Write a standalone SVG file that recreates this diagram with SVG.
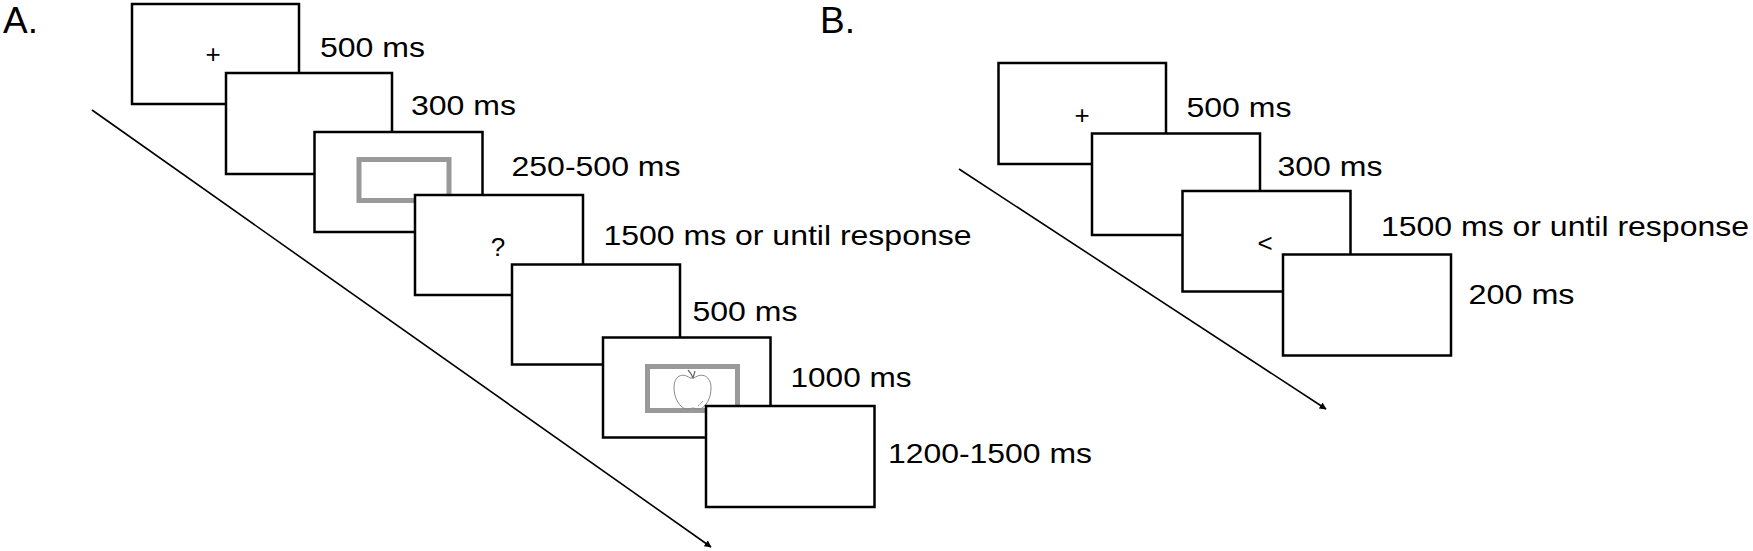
<svg xmlns="http://www.w3.org/2000/svg" width="1753" height="551" viewBox="0 0 1753 551">
<style>
.scr{fill:#fff;stroke:#000;stroke-width:2.5}
.cue{fill:none;stroke:#999;stroke-width:5}
.lbl{font-family:"Liberation Sans",Arial,sans-serif;font-size:28px;fill:#000}
.sym{font-family:"Liberation Sans",Arial,sans-serif;font-size:26px;fill:#000;text-anchor:middle}
.head{font-family:"Liberation Sans",Arial,sans-serif;font-size:37px;fill:#000}
.ax{stroke:#000;stroke-width:1.6;fill:none}
</style>
<defs>
<marker id="arr" viewBox="0 0 10 10" refX="9" refY="5" markerWidth="7" markerHeight="7" markerUnits="userSpaceOnUse" orient="auto"><path d="M0,0 L10,5 L0,10 z" fill="#000"/></marker>
</defs>
<rect width="1753" height="551" fill="#fff"/>
<text class="head" x="3" y="33">A.</text>
<text class="head" x="820" y="33">B.</text>
<g id="connectors">
<line class="ax" x1="92" y1="110" x2="711" y2="547" marker-end="url(#arr)"/>
<line class="ax" x1="959" y1="169" x2="1326" y2="409" marker-end="url(#arr)"/>
</g>
<g id="a1"><rect class="scr" x="132" y="4" width="167" height="100"/><text class="sym" x="213" y="63">+</text><text class="lbl" x="320" y="57" textLength="105" lengthAdjust="spacingAndGlyphs">500 ms</text></g>
<g id="a2"><rect class="scr" x="226" y="73" width="166" height="101"/><text class="lbl" x="411" y="115" textLength="105" lengthAdjust="spacingAndGlyphs">300 ms</text></g>
<g id="a3"><rect class="scr" x="314.5" y="132" width="168" height="100"/><rect class="cue" x="359" y="159.5" width="90" height="41"/><text class="lbl" x="511.5" y="176" textLength="169" lengthAdjust="spacingAndGlyphs">250-500 ms</text></g>
<g id="a4"><rect class="scr" x="415" y="195" width="168" height="100"/><text class="sym" x="498" y="256">?</text><text class="lbl" x="603.5" y="245" textLength="368" lengthAdjust="spacingAndGlyphs">1500 ms or until response</text></g>
<g id="a5"><rect class="scr" x="512" y="264.5" width="168" height="100"/><text class="lbl" x="692.5" y="321" textLength="105" lengthAdjust="spacingAndGlyphs">500 ms</text></g>
<g id="a6"><rect class="scr" x="603" y="337.5" width="167.5" height="100"/><rect class="cue" x="647.5" y="366.5" width="90" height="44"/>
<path d="M690,378 C682,372 674,376 674,388 C674,398 680,408 686,409 C689,410 691,408 693,408 C695,408 697,410 700,409 C706,407 711,398 711,388 C711,376 702,372 694,378 Z" fill="none" stroke="#888" stroke-width="1"/>
<path d="M693,378 L695,371 M688,370 C690,372 692,375 693,378" fill="none" stroke="#666" stroke-width="1.2"/>
<path d="M698,406 C700,404 702,402 703,401" fill="none" stroke="#999" stroke-width="1"/>
<text class="lbl" x="790.5" y="387" textLength="121" lengthAdjust="spacingAndGlyphs">1000 ms</text></g>
<g id="a7"><rect class="scr" x="706" y="406" width="168.5" height="101"/><text class="lbl" x="888" y="463" textLength="204" lengthAdjust="spacingAndGlyphs">1200-1500 ms</text></g>
<g id="b1"><rect class="scr" x="998.5" y="63" width="167.5" height="101"/><text class="sym" x="1082" y="124">+</text><text class="lbl" x="1186.5" y="117" textLength="105" lengthAdjust="spacingAndGlyphs">500 ms</text></g>
<g id="b2"><rect class="scr" x="1092" y="133.5" width="168" height="101.5"/><text class="lbl" x="1277.5" y="175.5" textLength="105" lengthAdjust="spacingAndGlyphs">300 ms</text></g>
<g id="b3"><rect class="scr" x="1182.5" y="191" width="168" height="100.5"/><text class="sym" x="1265" y="252">&lt;</text><text class="lbl" x="1381" y="236" textLength="368" lengthAdjust="spacingAndGlyphs">1500 ms or until response</text></g>
<g id="b4"><rect class="scr" x="1283" y="254.5" width="168" height="101"/><text class="lbl" x="1468.5" y="304" textLength="106" lengthAdjust="spacingAndGlyphs">200 ms</text></g>
</svg>
